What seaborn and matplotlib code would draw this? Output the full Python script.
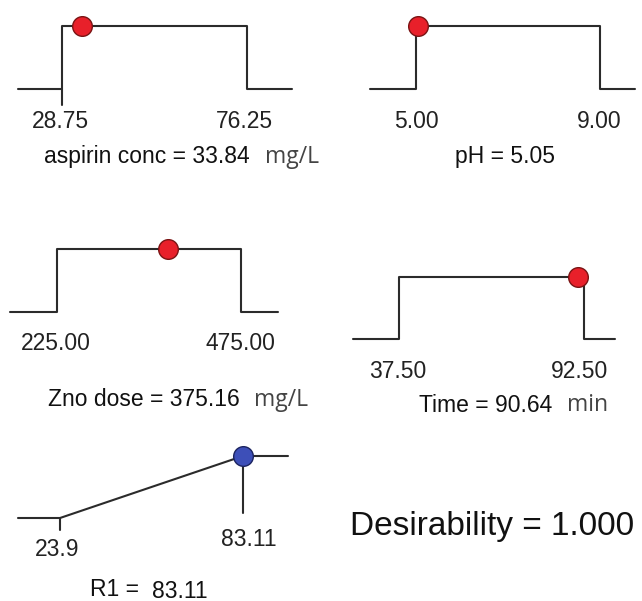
import matplotlib
matplotlib.use("Agg")
import matplotlib.pyplot as plt
import seaborn as sns
import pandas as pd

# ---- data ----
factors = ["aspirin conc", "pH", "Zno dose", "Time"]
lows = [28.75, 5.00, 225.00, 37.50]
highs = [76.25, 9.00, 475.00, 92.50]
values = [33.84, 5.05, 375.16, 90.64]
units = ["mg/L", "", "mg/L", "min"]
response_name = "R1"
r1_low = 23.9
r1_high = 83.11
r1_value = 83.11
desirability = 1.000

sns.set_theme(style="white")
plt.rcParams["font.family"] = ["Liberation Sans", "DejaVu Sans"]

W, H = 642, 601
fig = plt.figure(figsize=(W / 100, H / 100), dpi=100)

LINE = "#2b2b2b"
LW = 1.5
FS = 16.5


def fx(px):
    return px / W


def fy(py):
    return 1 - py / H


def make_axes(left_px, right_px, lo_px, hi_px, top_px, bot_px, lo, hi):
    scale = (hi - lo) / (hi_px - lo_px)
    xmin = lo - (lo_px - left_px) * scale
    xmax = hi + (right_px - hi_px) * scale
    unit = bot_px - top_px
    ymin, ymax = -0.5, 1.3
    ax_bottom = bot_px + (-ymin) * unit
    ax_top = top_px - (ymax - 1) * unit
    ax = fig.add_axes([fx(left_px), fy(ax_bottom), fx(right_px) - fx(left_px),
                       fy(ax_top) - fy(ax_bottom)])
    ax.set_xlim(xmin, xmax)
    ax.set_ylim(ymin, ymax)
    ax.axis("off")
    return ax, xmin, xmax


def line(ax, xs, ys):
    df = pd.DataFrame({"x": xs, "y": ys})
    sns.lineplot(data=df, x="x", y="y", ax=ax, sort=False, estimator=None,
                 color=LINE, lw=LW, clip_on=False)


def dot(ax, x, y, fc, ec):
    df = pd.DataFrame({"x": [x], "y": [y]})
    sns.scatterplot(data=df, x="x", y="y", ax=ax, s=200, color=fc,
                    edgecolor=ec, linewidth=1.0, zorder=5, clip_on=False)
    ax.set_xlabel("")
    ax.set_ylabel("")


# panel layout (pixels)
layout = [
    dict(left=18, right=292, lo=62, hi=247, top=26, bot=89, tick=-0.25,
         lab_y=121, title_r=250, title_y=157, unit_x=292, lab_dx=(-2, -3)),
    dict(left=370, right=635, lo=416, hi=600, top=26, bot=89, tick=0.0,
         lab_y=121, title_r=None, title_y=157, unit_x=None, lab_dx=(0, -1)),
    dict(left=10, right=278, lo=57, hi=241, top=249, bot=312, tick=0.0,
         lab_y=343, title_r=240, title_y=400, unit_x=281, lab_dx=(-1, -1)),
    dict(left=353, right=615, lo=399, hi=584, top=277, bot=339, tick=0.0,
         lab_y=371, title_r=552, title_y=405, unit_x=588, lab_dx=(-1, -4)),
]

for i, L in enumerate(layout):
    lo, hi, v = lows[i], highs[i], values[i]
    ax, xmin, xmax = make_axes(L["left"], L["right"], L["lo"], L["hi"],
                               L["top"], L["bot"], lo, hi)
    line(ax, [xmin, lo, lo, hi, hi, xmax], [0, 0, 1, 1, 0, 0])
    if L["tick"] < 0:
        line(ax, [lo, lo], [0, L["tick"]])
    dot(ax, v, 1, "#e8202a", "#7a1414")
    fig.text(fx(L["lo"] + L["lab_dx"][0]), fy(L["lab_y"]), f"{lo:.2f}",
             ha="center", va="center", fontsize=FS, color="#222222")
    fig.text(fx(L["hi"] + L["lab_dx"][1]), fy(L["lab_y"]), f"{hi:.2f}",
             ha="center", va="center", fontsize=FS, color="#222222")
    if units[i]:
        fig.text(fx(L["title_r"]), fy(L["title_y"]), f"{factors[i]} = {v:.2f}",
                 ha="right", va="center", fontsize=FS, color="#111111")
        fig.text(fx(L["unit_x"]), fy(L["title_y"]), units[i], ha="center",
                 va="center", fontsize=FS, color="#444444",
                 family=["Open Sans", "DejaVu Sans"])
    else:
        fig.text(fx(505), fy(L["title_y"]), f"{factors[i]} = {v:.2f}",
                 ha="center", va="center", fontsize=FS, color="#111111")

# response panel
ax, xmin, xmax = make_axes(18, 288, 60, 243, 456, 518, r1_low, r1_high)
d_val = (r1_value - r1_low) / (r1_high - r1_low)
line(ax, [xmin, r1_low, r1_high, xmax], [0, 0, 1, 1])
line(ax, [r1_low, r1_low], [0, -0.19])
line(ax, [r1_value, r1_value], [d_val, 0.08])
dot(ax, r1_value, d_val, "#3d4fb8", "#1c2460")
fig.text(fx(57), fy(550), f"{r1_low:.1f}", ha="center", va="center",
         fontsize=FS, color="#222222")
fig.text(fx(249), fy(540), f"{r1_high:.2f}", ha="center", va="center",
         fontsize=FS, color="#222222")
fig.text(fx(90), fy(589), f"{response_name} =", ha="left", va="center",
         fontsize=FS, color="#111111")
fig.text(fx(208), fy(591), f"{r1_value:.2f}", ha="right", va="center",
         fontsize=FS, color="#111111")

fig.text(fx(492), fy(527), f"Desirability = {desirability:.3f}", ha="center",
         va="center", fontsize=24, color="#111111")

fig.savefig("out.png", dpi=100, facecolor="white")
